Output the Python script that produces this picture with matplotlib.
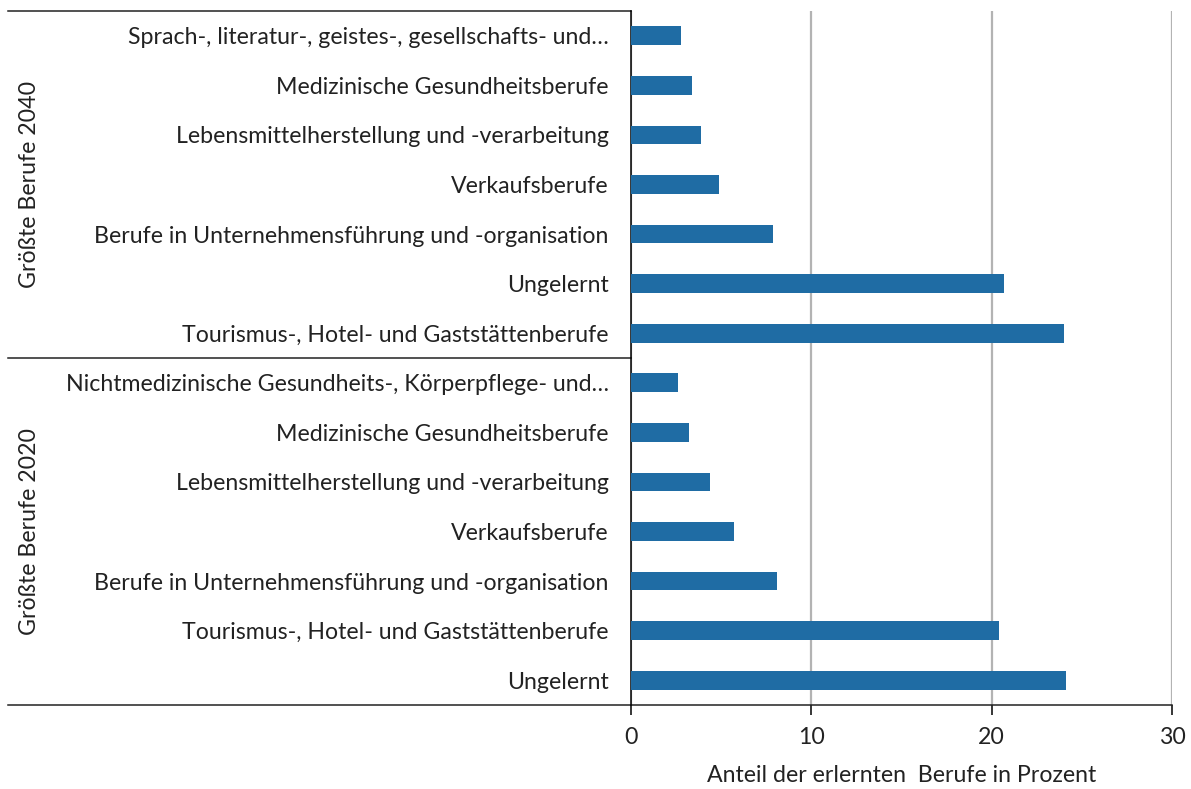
import matplotlib.pyplot as plt
from matplotlib import transforms

plt.rcParams['font.family'] = ['Lato', 'DejaVu Sans']

# top to bottom, as in the chart
labels_2040 = [
    'Sprach-, literatur-, geistes-, gesellschafts- und…',
    'Medizinische Gesundheitsberufe',
    'Lebensmittelherstellung und -verarbeitung',
    'Verkaufsberufe',
    'Berufe in Unternehmensführung und -organisation',
    'Ungelernt',
    'Tourismus-, Hotel- und Gaststättenberufe',
]
values_2040 = [2.8, 3.4, 3.9, 4.9, 7.9, 20.7, 24.0]

labels_2020 = [
    'Nichtmedizinische Gesundheits-, Körperpflege- und…',
    'Medizinische Gesundheitsberufe',
    'Lebensmittelherstellung und -verarbeitung',
    'Verkaufsberufe',
    'Berufe in Unternehmensführung und -organisation',
    'Tourismus-, Hotel- und Gaststättenberufe',
    'Ungelernt',
]
values_2020 = [2.6, 3.2, 4.4, 5.7, 8.1, 20.4, 24.1]

groups = ['Größte Berufe 2040', 'Größte Berufe 2020']
xticks = [0, 10, 20, 30]
xlabel = 'Anteil der erlernten  Berufe in Prozent'

BAR = '#1f6ca4'
TXT = '#222222'
FS = 16.7
W, H = 1191, 789

fig = plt.figure(figsize=(W / 100, H / 100), dpi=100)
left, right, top, bottom = 631 / W, 1172 / W, 1 - 11 / H, 1 - 705 / H
ax = fig.add_axes([left, bottom, right - left, top - bottom])

labels = labels_2040 + labels_2020
values = values_2040 + values_2020
pos = list(range(len(labels)))

ax.barh(pos, values, height=0.38, color=BAR, zorder=3)
ax.set_ylim(len(labels) - 0.5, -0.5)
ax.set_xlim(0, 30)
ax.set_xticks(xticks)
ax.set_yticks(pos)
ax.set_yticklabels(labels, fontsize=FS, color=TXT)
ax.tick_params(axis='y', length=0, pad=16)
ax.tick_params(axis='x', length=7, width=1.1, direction='out', labelsize=FS,
               labelcolor=TXT, pad=9)

ax.grid(axis='x', color='#b3b3b3', linewidth=1.6, zorder=0)
ax.grid(axis='y', visible=False)
for s in ['top', 'right', 'bottom']:
    ax.spines[s].set_visible(False)
ax.spines['left'].set_linewidth(1.1)
ax.set_xlabel(xlabel, fontsize=FS, color=TXT, labelpad=12)

# group separator lines and bottom axis line reaching over the labels
tr = transforms.blended_transform_factory(fig.transFigure, ax.transData)
n1 = len(labels_2040)
x0 = 8 / W
for yb in [-0.5, n1 - 0.5]:
    ax.plot([x0, left], [yb, yb], color=TXT, lw=1.1, transform=tr, clip_on=False)
ax.plot([x0, right], [len(labels) - 0.5] * 2, color=TXT, lw=1.1,
        transform=tr, clip_on=False)

# group titles
centers = [(n1 - 1) / 2, n1 + (len(labels_2020) - 1) / 2]
for g, c in zip(groups, centers):
    ax.text(30 / W, c, g, transform=tr, rotation=90, ha='center', va='center',
            fontsize=FS, color=TXT)

fig.savefig('out.png', dpi=100)
